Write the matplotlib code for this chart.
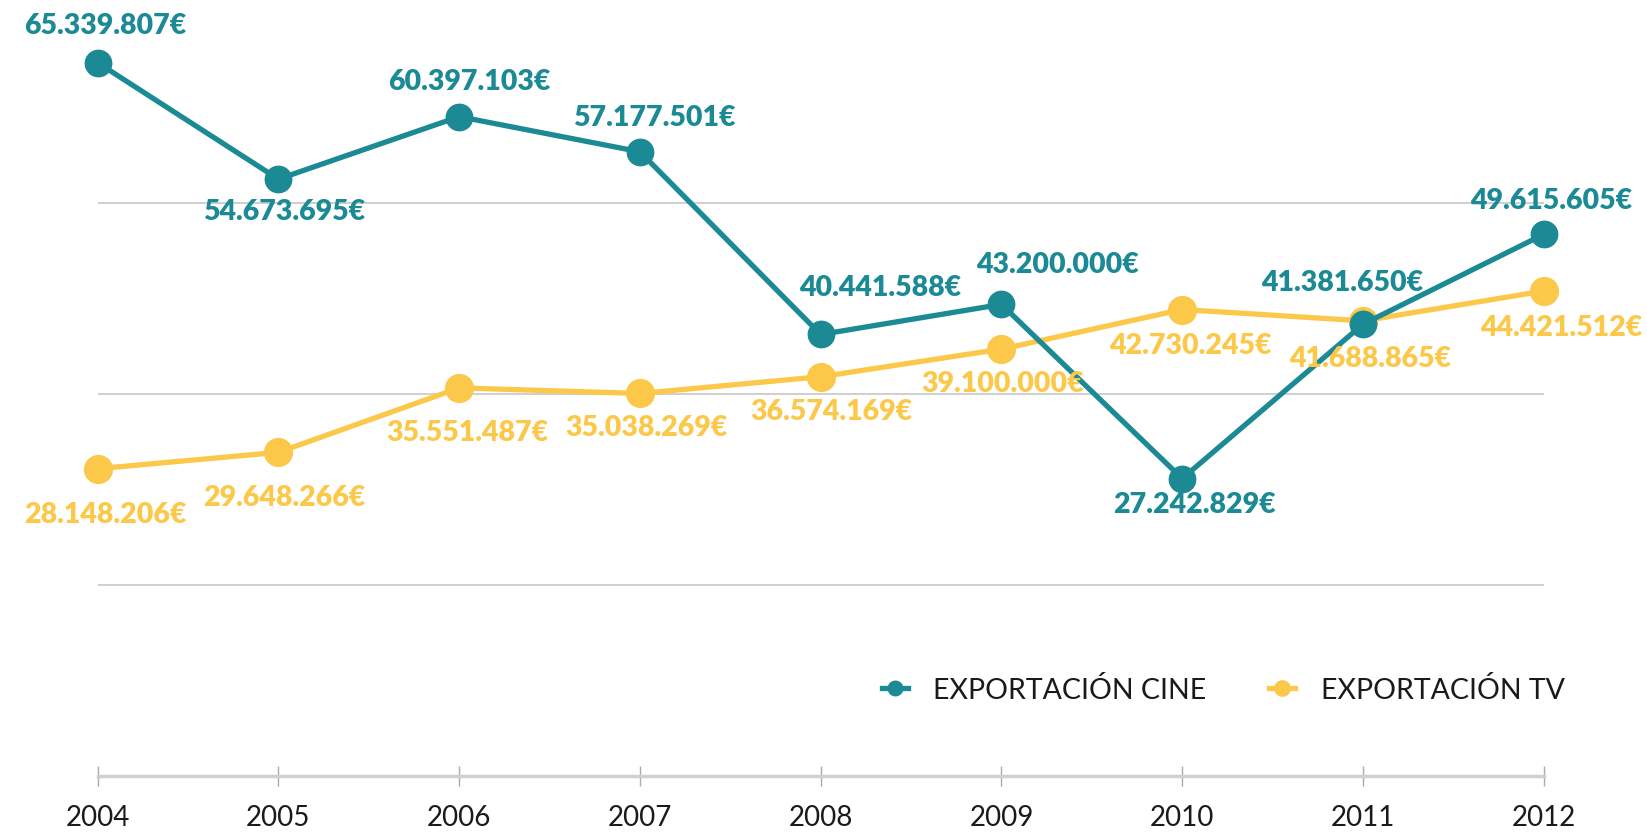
import matplotlib
matplotlib.use("Agg")
import matplotlib.pyplot as plt

# data
years = [2004, 2005, 2006, 2007, 2008, 2009, 2010, 2011, 2012]
cine = [65339807, 54673695, 60397103, 57177501, 40441588, 43200000, 27242829, 41381650, 49615605]
tv = [28148206, 29648266, 35551487, 35038269, 36574169, 39100000, 42730245, 41688865, 44421512]
grid_vals = [17500000, 35000000, 52500000]

# label offsets in pixels (dx, dy)
cine_off = [(8, 38), (6, -32), (10, 36), (14, 35), (59, 47), (56, 40), (12, -25), (-21, 42), (7, 34)]
tv_off = [(8, -45), (6, -45), (8, -44), (7, -34), (11, -34), (1, -34), (8, -35), (7, -37), (17, -36)]

TEAL = "#1b8a94"
YELLOW = "#fcc84a"


def fmt(v):
    return f"{v:,}".replace(",", ".") + "€"


fig = plt.figure(figsize=(16.47, 8.37), dpi=100)
ax = fig.add_axes([0.0593, 0.0717, 0.878, 0.913])

ax.plot(years, cine, color=TEAL, lw=3.8, marker="o", ms=19, label="EXPORTACIÓN CINE",
        zorder=3, clip_on=False)
ax.plot(years, tv, color=YELLOW, lw=3.8, marker="o", ms=20, label="EXPORTACIÓN TV",
        zorder=2, clip_on=False)

# data labels
for x, v, (dx, dy) in zip(years, cine, cine_off):
    ax.annotate(fmt(v), (x, v), xytext=(dx, dy), textcoords="offset pixels",
                ha="center", va="center", color=TEAL, fontsize=20.5,
                fontweight="heavy", family="Lato", zorder=5)
for x, v, (dx, dy) in zip(years, tv, tv_off):
    ax.annotate(fmt(v), (x, v), xytext=(dx, dy), textcoords="offset pixels",
                ha="center", va="center", color=YELLOW, fontsize=20.5,
                fontweight="heavy", family="Lato", zorder=5)

ax.set_xlim(2004, 2012)
ax.set_ylim(0, 70000000)
ax.set_yticks(grid_vals)
ax.grid(axis="y", color="#cccccc", lw=1.3)
ax.set_axisbelow(True)
ax.tick_params(axis="y", left=False, labelleft=False)
ax.set_xticks(years)
ax.set_xticklabels([str(y) for y in years], family="Lato", fontweight="normal",
                   fontsize=20, color="#1a1a1a")
ax.tick_params(axis="x", direction="inout", length=14, width=1, color="#aaaaaa", pad=13)

for s in ["top", "right", "left"]:
    ax.spines[s].set_visible(False)
ax.spines["bottom"].set_color("#d0d0d0")
ax.spines["bottom"].set_linewidth(2.5)

leg = ax.legend(loc="center right", bbox_to_anchor=(1.032, 0.113), ncol=2, frameon=False,
                handlelength=0.9, markerscale=0.55, columnspacing=2.2, handletextpad=0.9,
                prop={"family": "Lato", "weight": "normal", "size": 20.5})
for t in leg.get_texts():
    t.set_color("#1a1a1a")

fig.savefig("out.png", dpi=100)
